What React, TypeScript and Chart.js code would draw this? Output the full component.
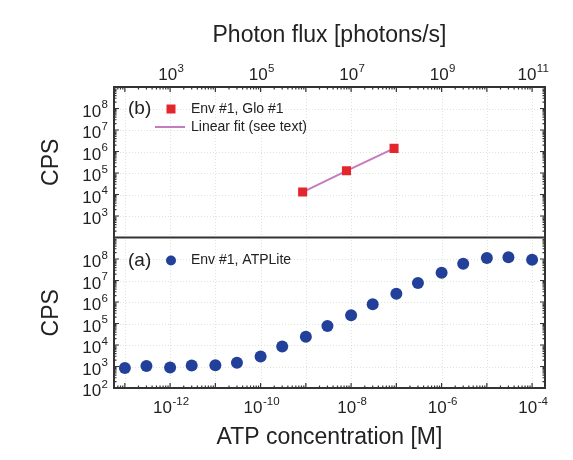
import { useEffect, useRef } from 'react';
import { Chart, registerables } from 'chart.js';

Chart.register(...registerables);

// ---------- data ----------
const atpConc = [1e-13, 3e-13, 1e-12, 3e-12, 1e-11, 3e-11, 1e-10, 3e-10, 1e-9, 3e-9, 1e-8, 3e-8, 1e-7, 3e-7, 1e-6, 3e-6, 1e-5, 3e-5, 1e-4];
const atpCps = [850, 1050, 900, 1120, 1150, 1500, 2900, 8500, 24000, 77000, 2.4e5, 7.8e5, 2.45e6, 7.6e6, 2.3e7, 6.0e7, 1.1e8, 1.22e8, 9.3e7];

const gloFlux = [8.5e5, 7.9e6, 8.9e7];
const gloCps = [1.3e4, 1.26e5, 1.4e6];

const fitFlux = [8.5e5, 7.9e6, 8.9e7];
const fitCps = [1.3e4, 1.26e5, 1.4e6];

// tick label exponents
const atpTickExps = [-12, -10, -8, -6, -4];
const fluxTickExps = [3, 5, 7, 9, 11];
const cpsUpperExps = [3, 4, 5, 6, 7, 8];
const cpsLowerExps = [2, 3, 4, 5, 6, 7, 8];

const atpRange = [Math.pow(10, -13.24), Math.pow(10, -3.715)];
const fluxRange = [Math.pow(10, 1.76), Math.pow(10, 11.285)];
const cpsRange = [1e2, 1e9];

const FONT = '"Liberation Sans", Arial, Helvetica, sans-serif';
const TEXT = '#222';
const FRAME = '#333';
const RED = '#e3262b';
const BLUE = '#22409a';
const PINK = '#c57bc0';

const setTicks = (exps: number[]) => (scale: any) => {
  scale.ticks = exps.map((e) => ({ value: Math.pow(10, e) }));
};
const noLabel = () => '';

// draw "10" with a raised exponent; align: 'center' | 'right'
function drawPow(ctx: CanvasRenderingContext2D, e: number, x: number, baseY: number, align: string) {
  const baseFont = '17px ' + FONT;
  const expFont = '11.5px ' + FONT;
  const base = '10';
  const exp = String(e);
  ctx.font = baseFont;
  const wb = ctx.measureText(base).width;
  ctx.font = expFont;
  const we = ctx.measureText(exp).width;
  const total = wb + we + 0.5;
  let sx = x;
  if (align === 'center') sx = x - total / 2;
  else if (align === 'right') sx = x - total;
  ctx.textAlign = 'left';
  ctx.textBaseline = 'alphabetic';
  ctx.font = baseFont;
  ctx.fillText(base, sx, baseY);
  ctx.font = expFont;
  ctx.fillText(exp, sx + wb + 0.5, baseY - 8.5);
}

const decor = {
  id: 'decor',
  beforeDatasetsDraw(chart: any) {
    const { ctx, chartArea: ca, scales } = chart;
    const x = scales.x;
    const ya = scales.ya;
    const yb = scales.yb;
    ctx.save();
    ctx.strokeStyle = 'rgba(185,205,175,0.5)';
    ctx.lineWidth = 1;
    ctx.setLineDash([1, 2]);
    for (let e = -13; e <= -4; e++) {
      const px = Math.round(x.getPixelForValue(Math.pow(10, e))) + 0.5;
      if (px <= ca.left + 1 || px >= ca.right - 1) continue;
      ctx.beginPath();
      ctx.moveTo(px, ca.top);
      ctx.lineTo(px, ca.bottom);
      ctx.stroke();
    }
    for (const s of [ya, yb]) {
      for (let e = 3; e <= 8; e++) {
        const py = Math.round(s.getPixelForValue(Math.pow(10, e))) + 0.5;
        ctx.beginPath();
        ctx.moveTo(ca.left, py);
        ctx.lineTo(ca.right, py);
        ctx.stroke();
      }
    }
    ctx.restore();
  },
  afterDatasetsDraw(chart: any) {
    const { ctx, chartArea: ca, scales } = chart;
    const x = scales.x;
    const x2 = scales.x2;
    const ya = scales.ya;
    const yb = scales.yb;
    ctx.save();
    ctx.strokeStyle = FRAME;
    ctx.lineWidth = 1.2;
    ctx.setLineDash([]);
    const major = 5;
    const minor = 2.5;
    // bottom axis ticks
    for (let e = -14; e <= -3; e++) {
      for (let m = 1; m <= 9; m++) {
        const px = x.getPixelForValue(m * Math.pow(10, e));
        if (px < ca.left + 1 || px > ca.right - 1) continue;
        const len = m === 1 ? major : minor;
        ctx.beginPath();
        ctx.moveTo(px, ca.bottom);
        ctx.lineTo(px, ca.bottom - len);
        ctx.stroke();
      }
    }
    // top axis ticks
    for (let e = 1; e <= 12; e++) {
      for (let m = 1; m <= 9; m++) {
        const px = x2.getPixelForValue(m * Math.pow(10, e));
        if (px < ca.left + 1 || px > ca.right - 1) continue;
        const len = m === 1 ? major : minor;
        ctx.beginPath();
        ctx.moveTo(px, ca.top);
        ctx.lineTo(px, ca.top + len);
        ctx.stroke();
      }
    }
    // y ticks for both panels, left and right
    for (const s of [ya, yb]) {
      for (let e = 2; e <= 9; e++) {
        for (let m = 1; m <= 9; m++) {
          const py = s.getPixelForValue(m * Math.pow(10, e));
          if (py < s.top + 1 || py > s.bottom - 1) continue;
          const len = m === 1 ? major : minor;
          ctx.beginPath();
          ctx.moveTo(ca.left, py);
          ctx.lineTo(ca.left + len, py);
          ctx.moveTo(ca.right, py);
          ctx.lineTo(ca.right - len, py);
          ctx.stroke();
        }
      }
    }
    // frame + divider
    ctx.lineWidth = 2;
    ctx.strokeRect(ca.left, ca.top, ca.right - ca.left, ca.bottom - ca.top);
    const div = (yb.bottom + ya.top) / 2;
    ctx.beginPath();
    ctx.moveTo(ca.left, div);
    ctx.lineTo(ca.right, div);
    ctx.stroke();

    // tick labels
    ctx.fillStyle = TEXT;
    for (const e of atpTickExps) drawPow(ctx, e, x.getPixelForValue(Math.pow(10, e)) + 1, ca.bottom + 25, 'center');
    for (const e of fluxTickExps) drawPow(ctx, e, x2.getPixelForValue(Math.pow(10, e)) + 1, ca.top - 7, 'center');
    for (const e of cpsUpperExps) drawPow(ctx, e, ca.left - 6, yb.getPixelForValue(Math.pow(10, e)) + 8, 'right');
    for (const e of cpsLowerExps) drawPow(ctx, e, ca.left - 6, ya.getPixelForValue(Math.pow(10, e)) + 8, 'right');

    // legends
    ctx.fillStyle = TEXT;
    ctx.textBaseline = 'middle';
    ctx.textAlign = 'left';
    const lx = ca.left + 14;
    const mx = ca.left + 57;
    const tx = ca.left + 77;
    const yB1 = yb.top + 22;
    const yB2 = yb.top + 40;
    const yA1 = ya.top + 23;
    ctx.font = '19px ' + FONT;
    ctx.fillText('(b)', lx, yB1);
    ctx.fillText('(a)', lx, yA1);
    ctx.font = '14px ' + FONT;
    ctx.fillText('Env #1, Glo #1', tx, yB1);
    ctx.fillText('Linear fit (see text)', tx, yB2);
    ctx.fillText('Env #1, ATPLite', tx, yA1);
    ctx.fillStyle = RED;
    ctx.fillRect(mx - 4.5, yB1 - 4.5, 9, 9);
    ctx.strokeStyle = PINK;
    ctx.lineWidth = 2;
    ctx.beginPath();
    ctx.moveTo(mx - 16, yB2);
    ctx.lineTo(mx + 14, yB2);
    ctx.stroke();
    ctx.fillStyle = BLUE;
    ctx.beginPath();
    ctx.arc(mx, yA1, 5, 0, Math.PI * 2);
    ctx.fill();
    ctx.restore();
  },
};

export default function App() {
  const ref = useRef<HTMLCanvasElement | null>(null);
  useEffect(() => {
    if (!ref.current) return;
    const tickFont = { family: FONT, size: 16 };
    const titleFont = { family: FONT, size: 23 };
    const chart = new Chart(ref.current, {
      type: 'scatter',
      data: {
        datasets: [
          {
            label: 'Env #1, Glo #1',
            data: gloFlux.map((v, i) => ({ x: v, y: gloCps[i] })),
            xAxisID: 'x2',
            yAxisID: 'yb',
            pointStyle: 'rect',
            pointRadius: 6.4,
            backgroundColor: RED,
            borderColor: RED,
            borderWidth: 0,
            showLine: false,
            order: 1,
          },
          {
            label: 'Linear fit (see text)',
            data: fitFlux.map((v, i) => ({ x: v, y: fitCps[i] })),
            xAxisID: 'x2',
            yAxisID: 'yb',
            showLine: true,
            pointRadius: 0,
            borderColor: PINK,
            borderWidth: 2,
            order: 2,
          },
          {
            label: 'Env #1, ATPLite',
            data: atpConc.map((v, i) => ({ x: v, y: atpCps[i] })),
            xAxisID: 'x',
            yAxisID: 'ya',
            pointStyle: 'circle',
            pointRadius: 6,
            backgroundColor: BLUE,
            borderColor: BLUE,
            borderWidth: 0,
            showLine: false,
            order: 1,
          },
        ],
      },
      options: {
        responsive: false,
        animation: false,
        events: [],
        layout: { padding: { left: 0, right: 28, top: 0, bottom: 0 } },
        plugins: { legend: { display: false }, tooltip: { enabled: false } },
        scales: {
          x: {
            type: 'logarithmic',
            position: 'bottom',
            min: atpRange[0],
            max: atpRange[1],
            afterBuildTicks: setTicks(atpTickExps),
            afterFit: (s: any) => { s.height = 72; },
            grid: { display: false, drawTicks: false },
            border: { display: false },
            ticks: { callback: noLabel, font: tickFont, color: TEXT, padding: 5, maxRotation: 0, autoSkip: false },
            title: { display: true, text: 'ATP concentration [M]', font: titleFont, color: TEXT, padding: { top: 0, bottom: 9 } },
          },
          x2: {
            type: 'logarithmic',
            position: 'top',
            min: fluxRange[0],
            max: fluxRange[1],
            afterBuildTicks: setTicks(fluxTickExps),
            afterFit: (s: any) => { s.height = 87; },
            grid: { display: false, drawTicks: false },
            border: { display: false },
            ticks: { callback: noLabel, font: tickFont, color: TEXT, padding: 6, maxRotation: 0, autoSkip: false },
            title: { display: true, text: 'Photon flux [photons/s]', font: titleFont, color: TEXT, padding: { top: 22, bottom: 0 } },
          },
          ya: {
            type: 'logarithmic',
            position: 'left',
            stack: 'cps',
            stackWeight: 1,
            min: cpsRange[0],
            max: cpsRange[1],
            afterBuildTicks: setTicks(cpsLowerExps),
            afterFit: (s: any) => { s.width = 114; },
            grid: { display: false, drawTicks: false },
            border: { display: false },
            ticks: { callback: noLabel, font: tickFont, color: TEXT, padding: 6, autoSkip: false },
            title: { display: true, text: 'CPS', font: titleFont, color: TEXT, padding: { top: 38, bottom: 0 } },
          },
          yb: {
            type: 'logarithmic',
            position: 'left',
            stack: 'cps',
            stackWeight: 1,
            min: cpsRange[0],
            max: cpsRange[1],
            afterBuildTicks: setTicks(cpsUpperExps),
            afterFit: (s: any) => { s.width = 114; },
            grid: { display: false, drawTicks: false },
            border: { display: false },
            ticks: { callback: noLabel, font: tickFont, color: TEXT, padding: 6, autoSkip: false },
            title: { display: true, text: 'CPS', font: titleFont, color: TEXT, padding: { top: 38, bottom: 0 } },
          },
        },
      } as any,
      plugins: [decor],
    });
    return () => chart.destroy();
  }, []);
  return (
    <div style={{ position: 'absolute', left: 0, top: 0, width: 573, height: 460, background: '#fff' }}>
      <canvas ref={ref} width={573} height={460} style={{ display: 'block' }} />
    </div>
  );
}
